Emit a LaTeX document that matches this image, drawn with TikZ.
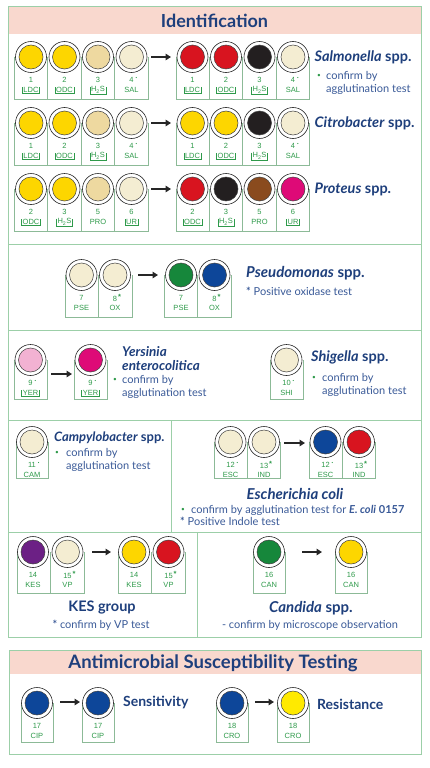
\documentclass[tikz,border=0pt]{standalone}
\usepackage{fontspec}
\setmainfont{Lato}
\newfontfamily\labfont{Liberation Sans}
\usetikzlibrary{arrows.meta}
\definecolor{frm}{HTML}{9CCFA8}
\definecolor{pinkband}{HTML}{F9D8CE}
\definecolor{navy}{HTML}{1E3F7C}
\definecolor{dblue}{HTML}{3A5A98}
\definecolor{lgreen}{HTML}{2E9A4A}
\definecolor{wY}{HTML}{FDD600}
\definecolor{wT}{HTML}{EED9A0}
\definecolor{wC}{HTML}{F4EDD2}
\definecolor{wR}{HTML}{D8141F}
\definecolor{wK}{HTML}{231F20}
\definecolor{wB}{HTML}{8A4B1E}
\definecolor{wM}{HTML}{DE0A77}
\definecolor{wG}{HTML}{16873B}
\definecolor{wU}{HTML}{0D4699}
\definecolor{wP}{HTML}{F2B2D2}
\definecolor{wV}{HTML}{6C2085}
\definecolor{wL}{HTML}{FFEA00}
\tikzset{
 frmline/.style={draw=frm, line width=1pt},
 boxline/.style={draw=frm!90!black, line width=0.6pt},
 outerwell/.style={circle, draw=black!85, line width=0.6pt, fill=white, minimum size=31pt, inner sep=0pt},
 innerwell/.style={circle, draw=black!75, line width=0.5pt, minimum size=24pt, inner sep=0pt},
 numlab/.style={font=\labfont\fontsize{7.5}{8}\selectfont, text=lgreen, inner sep=0.6pt},
 abblab/.style={font=\labfont\fontsize{7.5}{8}\selectfont, text=lgreen, inner xsep=1pt, inner ysep=0.8pt},
 brk/.style={draw=lgreen, line width=0.5pt},
 arr/.style={line width=1.6pt, black!85, -{Triangle[length=5.5pt,width=6.5pt]}},
 title/.style={font=\fontsize{18}{20}\selectfont\bfseries, text=navy, inner sep=0pt},
 species/.style={font=\fontsize{14.5}{16}\selectfont\bfseries, text=navy, anchor=west, inner sep=0pt},
 desc/.style={font=\fontsize{11}{13}\selectfont, text=dblue, anchor=west, inner sep=0pt, align=left},
 bul/.style={font=\fontsize{6.5}{7}\selectfont, text=lgreen, inner sep=0pt},
}
\newcommand{\dm}{\rlap{\hspace{2pt}\raisebox{3pt}{\scalebox{0.6}{•}}}}
\newcommand{\sm}{\rlap{\hspace{1pt}\raisebox{1.5pt}{\textbf{*}}}}
\newcommand{\wl}[6]{%
  \node[outerwell] (#1) at (#2,#3) {};
  \node[innerwell, fill=#4] (#1c) at (#2,#3) {};
  \node[numlab] (#1n) at (#2,#3+23) {#5};
  \node[abblab] (#1a) at (#2,#3+33) {#6};
}
\newcommand{\wlb}[6]{\wl{#1}{#2}{#3}{#4}{#5}{#6}%
  \draw[brk] ([yshift=-0.8pt]#1a.north west) |- (#1a.south east) -- ([yshift=-0.8pt]#1a.north east);}
\newcommand{\grp}[4]{\draw[boxline] (#1,#3) -- (#1,#4) -- (#2,#4) -- (#2,#3);}
\newcommand{\dv}[3]{\draw[boxline] (#1,#2) -- (#1,#3);}
\begin{document}
\begin{tikzpicture}[x=1pt,y=-1pt]
\useasboundingbox (0,0) rectangle (430,768);
\fill[white] (0,0) rectangle (430,768);
% ===== Identification frame
\fill[pinkband] (8,7) rectangle (421,34);
\draw[frmline] (8,7) rectangle (421,637);
\draw[frmline] (8,244) -- (421,244);
\draw[frmline] (8,330) -- (421,330);
\draw[frmline] (8,420) -- (421,420);
\draw[frmline] (171,420) -- (171,532);
\draw[frmline] (8,532) -- (421,532);
\draw[frmline] (197,532) -- (197,637);
\node[title] (tid) at (214.5,21) {Identification};
% ===== Row 1 Salmonella
\grp{14.5}{148}{57}{99}\dv{47.75}{57}{99}\dv{81.25}{57}{99}\dv{114.75}{57}{99}
\grp{176}{309.5}{57}{99}\dv{209.25}{57}{99}\dv{242.75}{57}{99}\dv{276.25}{57}{99}
\wlb{a1}{31}{57}{wY}{1}{LDC}
\wlb{a2}{64.5}{57}{wY}{2}{ODC}
\wlb{a3}{98}{57}{wT}{3}{H\textsubscript{2}S}
\wl{a4}{131.5}{57}{wC}{4\dm}{SAL}
\wlb{b1}{192.5}{57}{wR}{1}{LDC}
\wlb{b2}{226}{57}{wR}{2}{ODC}
\wlb{b3}{259.5}{57}{wK}{3}{H\textsubscript{2}S}
\wl{b4}{293}{57}{wC}{4\dm}{SAL}
\coordinate (ar1s) at (151,57); \coordinate (ar1e) at (171,57);
\draw[arr] (ar1s) -- (ar1e);
\node[species] (sal) at (314.5,57) {\textit{Salmonella} spp.};
\node[bul] (salb) at (319,76) {•};
\node[desc] (sald) at (326,82.5) {confirm by\\agglutination test};
% ===== Row 2 Citrobacter
\grp{14.5}{148}{123}{165}\dv{47.75}{123}{165}\dv{81.25}{123}{165}\dv{114.75}{123}{165}
\grp{176}{309.5}{123}{165}\dv{209.25}{123}{165}\dv{242.75}{123}{165}\dv{276.25}{123}{165}
\wlb{c1}{31}{123}{wY}{1}{LDC}
\wlb{c2}{64.5}{123}{wY}{2}{ODC}
\wlb{c3}{98}{123}{wT}{3}{H\textsubscript{2}S}
\wl{c4}{131.5}{123}{wC}{4\dm}{SAL}
\wlb{d1}{192.5}{123}{wY}{1}{LDC}
\wlb{d2}{226}{123}{wY}{2}{ODC}
\wlb{d3}{259.5}{123}{wK}{3}{H\textsubscript{2}S}
\wl{d4}{293}{123}{wC}{4\dm}{SAL}
\coordinate (ar2s) at (151,123); \coordinate (ar2e) at (171,123);
\draw[arr] (ar2s) -- (ar2e);
\node[species] (cit) at (314.5,123) {\textit{Citrobacter} spp.};
% ===== Row 3 Proteus
\grp{14.5}{148}{189}{231}\dv{47.75}{189}{231}\dv{81.25}{189}{231}\dv{114.75}{189}{231}
\grp{176}{309.5}{189}{231}\dv{209.25}{189}{231}\dv{242.75}{189}{231}\dv{276.25}{189}{231}
\wlb{e1}{31}{189}{wY}{2}{ODC}
\wlb{e2}{64.5}{189}{wY}{3}{H\textsubscript{2}S}
\wl{e3}{98}{189}{wT}{5}{PRO}
\wlb{e4}{131.5}{189}{wC}{6}{UR}
\wlb{f1}{192.5}{189}{wR}{2}{ODC}
\wlb{f2}{226}{189}{wK}{3}{H\textsubscript{2}S}
\wl{f3}{259.5}{189}{wB}{5}{PRO}
\wlb{f4}{293}{189}{wM}{6}{UR}
\coordinate (ar3s) at (151,189); \coordinate (ar3e) at (171,189);
\draw[arr] (ar3s) -- (ar3e);
\node[species] (pro) at (314.5,189) {\textit{Proteus} spp.};
% ===== Pseudomonas
\grp{65}{132}{275}{317}\dv{98.5}{275}{317}
\grp{164}{231}{275}{317}\dv{197.5}{275}{317}
\wl{g1}{81.5}{275}{wC}{7}{PSE}
\wl{g2}{115}{275}{wC}{8\sm}{OX}
\wl{h1}{181}{275}{wG}{7}{PSE}
\wl{h2}{214.5}{275}{wU}{8\sm}{OX}
\coordinate (ar4s) at (138,275); \coordinate (ar4e) at (158,275);
\draw[arr] (ar4s) -- (ar4e);
\node[species, font=\fontsize{15}{17}\selectfont\bfseries] (pse) at (246,273) {\textit{Pseudomonas} spp.};
\node[desc] (psed) at (246,291) {\textbf{*} Positive oxidase test};
% ===== Yersinia / Shigella
\grp{14}{47}{360}{399}
\grp{74}{107}{360}{399}
\grp{270}{303}{360}{399}
\wlb{i1}{30.5}{360}{wP}{9\dm}{YER}
\wlb{i2}{90.5}{360}{wM}{9\dm}{YER}
\wl{j1}{286.5}{360}{wC}{10\dm}{SHI}
\coordinate (ar5s) at (51,374); \coordinate (ar5e) at (72,374);
\draw[arr] (ar5s) -- (ar5e);
\node[species, font=\fontsize{13.5}{15}\selectfont\bfseries] (yer1) at (122,352) {\textit{Yersinia}};
\node[species, font=\fontsize{13.5}{15}\selectfont\bfseries] (yer2) at (122,366) {\textit{enterocolitica}};
\node[bul] (yerb) at (115,380) {•};
\node[desc] (yerd) at (122,386.5) {confirm by\\agglutination test};
\node[species] (shi) at (311,357) {\textit{Shigella} spp.};
\node[bul] (shib) at (314,378) {•};
\node[desc] (shid) at (322,384.5) {confirm by\\agglutination test};
% ===== Campylobacter / E. coli
\grp{16}{48}{442}{478}
\wl{k1}{32}{442}{wC}{11\dm}{CAM}
\node[species, font=\fontsize{13}{15}\selectfont\bfseries] (cam) at (54,438) {\textit{Campylobacter} spp.};
\node[bul] (camb) at (57,453) {•};
\node[desc] (camd) at (66,459.5) {confirm by\\agglutination test};
\grp{214}{280.5}{442}{478}\dv{247.25}{442}{478}
\grp{309}{375.5}{442}{478}\dv{342.25}{442}{478}
\wl{l1}{230.5}{442}{wC}{12\dm}{ESC}
\wl{l2}{264}{442}{wC}{13\sm}{IND}
\wl{m1}{325.5}{442}{wU}{12\dm}{ESC}
\wl{m2}{359}{442}{wR}{13\sm}{IND}
\coordinate (ar6s) at (284,443); \coordinate (ar6e) at (305,443);
\draw[arr] (ar6s) -- (ar6e);
\node[species, anchor=center, font=\fontsize{15}{17}\selectfont\bfseries] (eco) at (295,494) {\textit{Escherichia coli}};
\node[bul] (ecob) at (183,510) {•};
\node[desc] (ecod) at (191,510) {confirm by agglutination test for \textbf{\textit{E. coli}} \textbf{0157}};
\node[desc] (ecos) at (180,521) {\textbf{*} Positive Indole test};
% ===== KES / Candida
\grp{17}{84}{552}{593}\dv{50.5}{552}{593}
\grp{118}{185}{552}{593}\dv{151.5}{552}{593}
\wl{n1}{33}{552}{wV}{14}{KES}
\wl{n2}{67.5}{552}{wC}{15\sm}{VP}
\wl{o1}{134}{552}{wY}{14}{KES}
\wl{o2}{168.5}{552}{wR}{15\sm}{VP}
\coordinate (ar7s) at (92,552); \coordinate (ar7e) at (111,552);
\draw[arr] (ar7s) -- (ar7e);
\node[species, anchor=center, font=\fontsize{14.5}{16}\selectfont\bfseries] (kes) at (102,608) {KES group};
\node[desc, anchor=center] (kesd) at (101,625) {\textbf{*} confirm by VP test};
\grp{253}{285}{552}{593}
\grp{335}{367}{552}{593}
\wl{p1}{269}{552}{wG}{16}{CAN}
\wl{p2}{351}{552}{wY}{16}{CAN}
\coordinate (ar8s) at (302,552); \coordinate (ar8e) at (322,552);
\draw[arr] (ar8s) -- (ar8e);
\node[species, anchor=center, font=\fontsize{15}{17}\selectfont\bfseries] (can) at (311,608) {\textit{Candida} spp.};
\node[desc, anchor=center] (cand) at (310,625) {- confirm by microscope observation};
% ===== AST
\fill[pinkband] (9,650) rectangle (421,674);
\draw[frmline] (9,650) rectangle (421,754);
\node[title, font=\fontsize{18.5}{20}\selectfont\bfseries] (tast) at (213,663) {Antimicrobial Susceptibility Testing};
\grp{21}{53}{703}{742}
\grp{82}{114}{703}{742}
\grp{216}{248}{703}{742}
\grp{277}{309}{703}{742}
\wl{q1}{37}{703}{wU}{17}{CIP}
\wl{q2}{98}{703}{wU}{17}{CIP}
\wl{r1}{232}{703}{wU}{18}{CRO}
\wl{r2}{293}{703}{wL}{18}{CRO}
\coordinate (ar9s) at (60,702); \coordinate (ar9e) at (80,702);
\draw[arr] (ar9s) -- (ar9e);
\coordinate (ar10s) at (255,702); \coordinate (ar10e) at (274,702);
\draw[arr] (ar10s) -- (ar10e);
\node[species, font=\fontsize{14}{16}\selectfont\bfseries] (sen) at (123,702) {Sensitivity};
\node[species, font=\fontsize{14}{16}\selectfont\bfseries] (res) at (317,704) {Resistance};
\end{tikzpicture}
\end{document}
